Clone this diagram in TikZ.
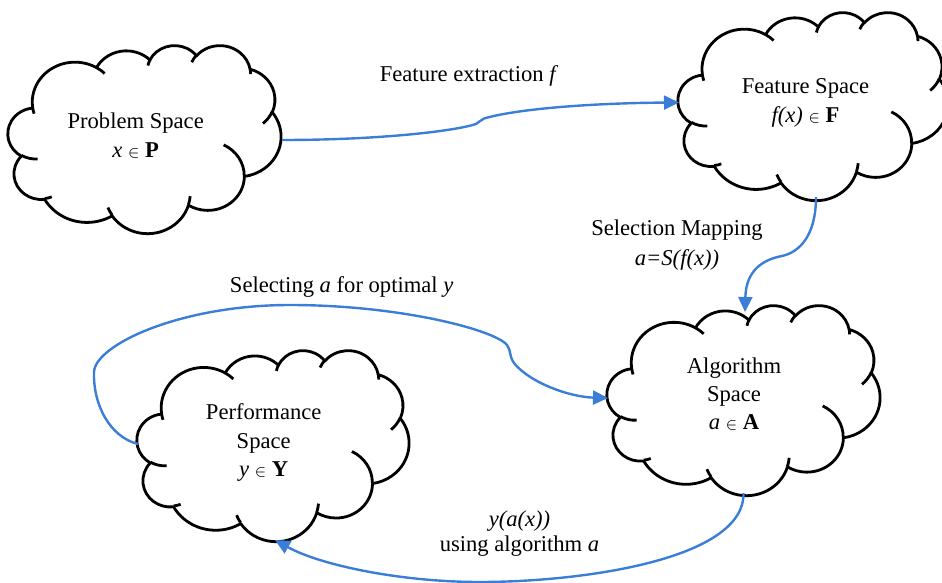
\documentclass[tikz,border=0pt]{standalone}
\usepackage{fontspec}
\setmainfont{Liberation Serif}
\usetikzlibrary{arrows.meta}
\definecolor{linkblue}{RGB}{58,126,216}
% small "element of" sign
\newcommand\elt{\ensuremath{\scriptstyle\in}}
% elliptical arc with radii #1,#2; start angle #3 and sweep #4 are visual angles
\newcommand\oarc[4]{arc[x radius=#1, y radius=#2,
  start angle={atan2((#1)*sin(#3),(#2)*cos(#3))},
  delta angle={mod(atan2((#1)*sin((#3)+(#4)),(#2)*cos((#3)+(#4)))-atan2((#1)*sin(#3),(#2)*cos(#3))+720,360)}]}
% cloud in the box with top-left corner (#1,#2), width #3, height #4
\newcommand\officecloud[4]{%
  \begin{scope}[shift={(#1,#2)}, x={({#3/864*1pt},0pt)}, y={(0pt,{-#4/864*1pt})}]
    \draw[cloudline, fill=white] (39,143.7)
      \oarc{67.53}{91.90}{-190.4875}{123.7805}
      \oarc{53.33}{72.67}{-144.1024}{89.9452}
      \oarc{43.65}{59.45}{-145.8079}{99.7230}
      \oarc{48.57}{65.95}{-130.9861}{117.2417}
      \oarc{53.33}{72.73}{-78.7089}{109.0269}
      \oarc{67.75}{92.20}{-46.2673}{130.2690}
      \oarc{57.85}{78.67}{0.6250}{114.0333}
      \oarc{67.52}{92.15}{22.4516}{115.1726}
      \oarc{77.20}{105.43}{66.2426}{75.7110}
      \oarc{43.60}{59.18}{-274.9421}{146.7356}
      \oarc{43.45}{59.45}{-246.8285}{152.5189}
      -- cycle;
    \draw[cloudline]
      (46.93,261.77) \oarc{43.45}{59.45}{86.7420}{26.4295}
      (69.28,348.99) \oarc{43.60}{59.18}{73.6105}{11.4475}
      (164.78,390.90) \oarc{67.52}{92.15}{137.6242}{14.0811}
      (288.27,347.51) \oarc{67.52}{92.15}{6.4533}{15.9984}
      (341.29,229.54) \oarc{57.85}{78.67}{-70.2924}{70.9174}
      (417.98,153.54) \oarc{53.33}{72.73}{30.3180}{27.7515}
      (383.24,54.26) \oarc{48.57}{65.95}{-13.7443}{14.8512}
      (290.78,39.52) \oarc{48.57}{65.95}{-149.1815}{18.1969}
      (221.41,47.20) \oarc{43.65}{59.45}{-163.4943}{17.6864}
      (140.00,51.92) \oarc{67.53}{91.90}{-66.7070}{12.3194}
      (41.27,157.89) \oarc{67.53}{91.90}{157.6544}{11.8582};
  \end{scope}}
\tikzset{
  cloudline/.style={draw=black, line width=1.4pt, line join=round},
  link/.style={draw=linkblue, line width=1.2pt, -{Triangle[length=7.5pt,width=7pt]}},
  lbl/.style={font=\fontsize{11.3}{14.8}\selectfont, align=center, anchor=base, inner sep=0pt},
}
\begin{document}
\begin{tikzpicture}[x=0.5pt, y=-0.5pt]
  \useasboundingbox (0,0) rectangle (942,583);

  % the four spaces
  \officecloud{8}{45}{273}{188}
  \officecloud{678}{12}{270}{188}
  \officecloud{607}{305}{273}{190}
  \officecloud{137}{350}{272}{191}

  % text anchors sit on the baseline of the last line
  \node[lbl] (prob) at (135.7,157.7) {Problem Space\\\textit{x} \elt{} \textbf{P}};
  \node[lbl] (feat) at (805.5,122.7) {Feature Space\\\textit{f(x)} \elt{} \textbf{F}};
  \node[lbl, font=\fontsize{11.3}{13.9}\selectfont] (alg) at (734,429) {Algorithm\\Space\\\textit{a} \elt{} \textbf{A}};
  \node[lbl, font=\fontsize{11.3}{14.3}\selectfont] (perf) at (263.7,476.7) {Performance\\Space\\\textit{y} \elt{} \textbf{Y}};

  % connector end points on the cloud outlines
  \coordinate (probOut) at (282,140);
  \coordinate (featIn) at (679,102.5);
  \coordinate (featOut) at (816,197);
  \coordinate (algTop) at (745,312);
  \coordinate (perfOut) at (138,444);
  \coordinate (algIn) at (608,398);
  \coordinate (algOut) at (743.5,493);
  \coordinate (perfIn) at (275,540);

  % connectors
  \draw[link] (probOut) .. controls (380,140) and (455,131) .. (476,124)
    .. controls (479,122.5) and (480.5,120) .. (484,118.5)
    .. controls (520,108) and (600,103) .. (featIn);
  \draw[link] (featOut) .. controls (816,235) and (800,252) .. (782,256)
    .. controls (766,259) and (746,268) .. (algTop);
  \draw[link] (perfOut) .. controls (110,437) and (93,405) .. (94,372)
    .. controls (95,345) and (180,305) .. (290,305)
    .. controls (400,305) and (495,330) .. (507,345)
    .. controls (511,350) and (509,356) .. (514,363)
    .. controls (530,383) and (570,397) .. (algIn);
  \draw[link] (algOut) .. controls (745,560) and (580,582) .. (480,582)
    .. controls (400,582) and (320,565) .. (perfIn);

  % connector labels
  \node[lbl] (lblExtract) at (469,81.7) {Feature extraction \textit{f}};
  \node[lbl] (lblSelect) at (677,265) {Selection Mapping\\\textit{a=S(f(x))}};
  \node[lbl] (lblOptimal) at (341.7,292.4) {Selecting \textit{a} for optimal \textit{y}};
  \node[lbl, font=\fontsize{11.3}{12.5}\selectfont] (lblPerf) at (519.5,551.7) {\textit{y(a(x))}\\using algorithm \textit{a}};
\end{tikzpicture}
\end{document}
